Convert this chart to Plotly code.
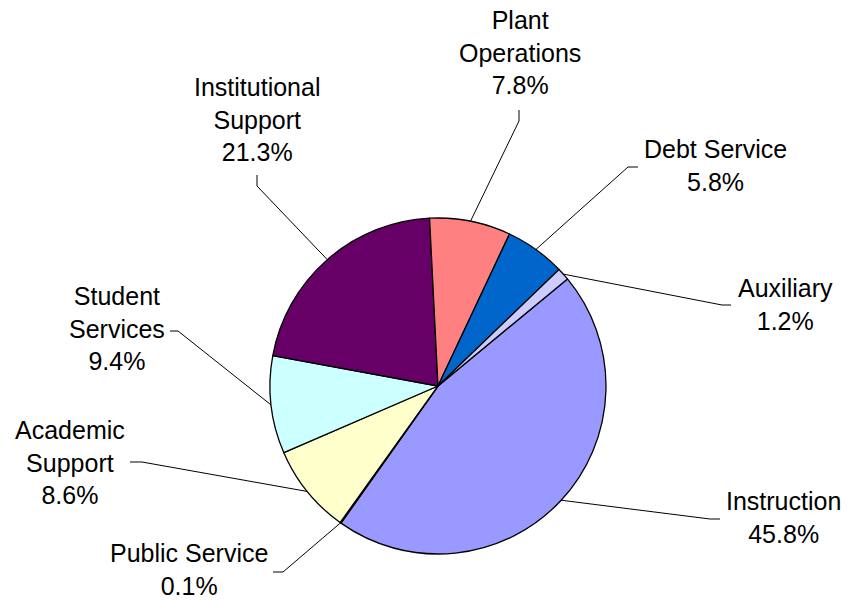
import math
import plotly.graph_objects as go

W, H = 847, 600

categories = ["Instruction", "Public Service", "Academic Support", "Student Services",
              "Institutional Support", "Plant Operations", "Debt Service", "Auxiliary"]
values = [45.8, 0.1, 8.6, 9.4, 21.3, 7.8, 5.8, 1.2]
label_text = ["Instruction<br>45.8%", "Public Service<br>0.1%", "Academic<br>Support<br>8.6%",
              "Student<br>Services<br>9.4%", "Institutional<br>Support<br>21.3%",
              "Plant<br>Operations<br>7.8%", "Debt Service<br>5.8%", "Auxiliary<br>1.2%"]
colors = ["#9999FF", "#993366", "#FFFFCC", "#CCFFFF", "#660066", "#FF8080", "#0066CC", "#CCCCFF"]

# layout (pixel) settings
cx, cy, R = 438, 386, 168
rotation = 50.4
label_pos = [(783, 517), (189, 569), (70, 462), (117, 328), (257, 119), (520, 52), (715, 166), (785, 304)]
elbows = [((720, 519), (710, 519)), ((273, 572), (283, 572)), ((130, 462), (142, 462)),
          ((170, 331), (178, 331)), ((257, 175), (257, 186)), ((519, 110), (519, 121)),
          ((638, 167), (628, 167)), ((731, 305), (722, 305))]

px = lambda x: x / W
py = lambda y: 1 - y / H

fig = go.Figure(go.Pie(
    labels=categories, values=values, sort=False, direction="clockwise",
    rotation=rotation, marker=dict(colors=colors, line=dict(color="black", width=1.3)),
    textinfo="none", hoverinfo="label+percent", showlegend=False,
    domain=dict(x=[px(cx - R), px(cx + R)], y=[py(cy + R), py(cy - R)]),
))

total = sum(values)
cum = 0.0
shapes, annotations = [], []
for i, v in enumerate(values):
    mid = rotation + (cum + v / 2) / total * 360
    cum += v
    a = math.radians(mid)
    ex, ey = cx + R * math.sin(a), cy - R * math.cos(a)
    (x0, y0), (x1, y1) = elbows[i]
    shapes.append(dict(type="path", xref="paper", yref="paper",
                       path=f"M {px(x0)} {py(y0)} L {px(x1)} {py(y1)} L {px(ex)} {py(ey)}",
                       line=dict(color="black", width=1)))
    lx, ly = label_pos[i]
    annotations.append(dict(x=px(lx), y=py(ly), xref="paper", yref="paper",
                            text=label_text[i], showarrow=False, xanchor="center",
                            yanchor="middle", align="center",
                            font=dict(size=25, color="black")))

fig.update_layout(
    width=W, height=H, margin=dict(l=0, r=0, t=0, b=0),
    paper_bgcolor="white", plot_bgcolor="white",
    font=dict(family="Arial, Liberation Sans, sans-serif"),
    shapes=shapes, annotations=annotations,
)
fig.write_html("out.html")
